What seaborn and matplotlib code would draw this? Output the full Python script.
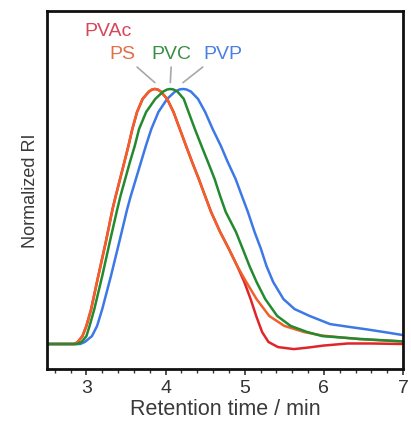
import matplotlib
matplotlib.use("Agg")
import matplotlib.pyplot as plt
import numpy as np
import pandas as pd
import seaborn as sns
from matplotlib.ticker import MultipleLocator

# values (retention time in min, normalized RI)
ps_x = [2.5, 2.85, 2.89, 2.95, 3.00, 3.06, 3.15, 3.245, 3.33, 3.37, 3.425, 3.48, 3.53, 3.58, 3.64,
        3.71, 3.79, 3.83, 3.865, 3.90, 3.94, 4.02, 4.10, 4.18, 4.26, 4.335, 4.42, 4.50, 4.575,
        4.69, 4.80, 4.905, 5.02, 5.15, 5.31, 5.50, 5.75, 5.98, 6.45, 7.0]
ps_y = [0.0, 0.0, 0.008, 0.031, 0.071, 0.137, 0.267, 0.400, 0.529, 0.580, 0.647, 0.714, 0.776,
        0.843, 0.910, 0.961, 0.990, 0.998, 1.0, 0.998, 0.990, 0.961, 0.910, 0.843, 0.776, 0.714,
        0.647, 0.580, 0.518, 0.439, 0.373, 0.306, 0.243, 0.176, 0.110, 0.071, 0.047, 0.033, 0.019,
        0.01]

pvac_x = [2.5, 2.85, 2.89, 2.95, 3.00, 3.06, 3.15, 3.245, 3.33, 3.37, 3.425, 3.48, 3.53, 3.58,
          3.64, 3.71, 3.79, 3.83, 3.865, 3.90, 3.94, 4.02, 4.10, 4.18, 4.26, 4.335, 4.42, 4.50,
          4.575, 4.69, 4.80, 4.905, 4.995, 5.075, 5.145, 5.22, 5.30, 5.42, 5.62, 5.80, 6.00, 6.30,
          6.60, 7.0]
pvac_y = [0.0, 0.0, 0.008, 0.031, 0.071, 0.137, 0.267, 0.400, 0.529, 0.580, 0.647, 0.714, 0.776,
          0.843, 0.910, 0.961, 0.990, 0.998, 1.0, 0.998, 0.990, 0.961, 0.910, 0.843, 0.776, 0.714,
          0.647, 0.580, 0.518, 0.439, 0.373, 0.306, 0.243, 0.176, 0.110, 0.047, 0.008, -0.012,
          -0.020, -0.014, -0.006, 0.002, 0.002, 0.0]

pvc_x = [2.5, 2.88, 2.94, 3.00, 3.04, 3.10, 3.20, 3.295, 3.39, 3.43, 3.49, 3.55, 3.61, 3.665,
         3.755, 3.87, 3.97, 4.02, 4.06, 4.10, 4.15, 4.23, 4.29, 4.37, 4.455, 4.535, 4.62, 4.69,
         4.76, 4.89, 4.975, 5.06, 5.15, 5.26, 5.41, 5.58, 5.79, 5.98, 6.45, 7.0]
pvc_y = [0.0, 0.0, 0.008, 0.031, 0.071, 0.137, 0.267, 0.400, 0.529, 0.580, 0.647, 0.714, 0.776,
         0.843, 0.910, 0.961, 0.990, 0.998, 1.0, 0.998, 0.990, 0.961, 0.910, 0.843, 0.776, 0.714,
         0.647, 0.580, 0.518, 0.439, 0.373, 0.306, 0.243, 0.176, 0.110, 0.071, 0.047, 0.031, 0.020,
         0.01]

pvp_x = [2.5, 2.92, 2.98, 3.07, 3.135, 3.20, 3.31, 3.415, 3.515, 3.56, 3.625, 3.69, 3.75, 3.82,
         3.91, 4.02, 4.12, 4.175, 4.22, 4.265, 4.32, 4.41, 4.50, 4.595, 4.70, 4.785, 4.885, 4.965,
         5.04, 5.125, 5.205, 5.275, 5.36, 5.49, 5.63, 5.82, 6.08, 6.30, 6.55, 6.80, 7.0]
pvp_y = [0.0, 0.0, 0.008, 0.031, 0.071, 0.137, 0.267, 0.400, 0.529, 0.580, 0.647, 0.714, 0.776,
         0.843, 0.910, 0.961, 0.990, 0.998, 1.0, 0.998, 0.990, 0.961, 0.910, 0.843, 0.776, 0.714,
         0.647, 0.580, 0.518, 0.439, 0.373, 0.306, 0.243, 0.176, 0.137, 0.110, 0.078, 0.068, 0.057,
         0.045, 0.035]

polymers = ["PVP", "PVAc", "PS", "PVC"]  # drawing order
series = {"PVAc": (pvac_x, pvac_y), "PS": (ps_x, ps_y), "PVC": (pvc_x, pvc_y), "PVP": (pvp_x, pvp_y)}
line_colors = {"PVAc": "#e0252a", "PS": "#f0602a", "PVC": "#248a30", "PVP": "#3c78e6"}
label_colors = {"PVAc": "#d8455a", "PS": "#e07048", "PVC": "#3a8f45", "PVP": "#4a80e2"}

df = pd.concat(
    [pd.DataFrame({"time": series[p][0], "ri": series[p][1], "polymer": p}) for p in polymers],
    ignore_index=True,
)

sns.set_style("white")
plt.rcParams["font.family"] = ["Liberation Sans", "DejaVu Sans"]

fig = plt.figure(figsize=(4.11, 4.27), dpi=100)
ax = fig.add_axes([0.114, 0.1335, 0.8665, 0.8385])

sns.lineplot(data=df, x="time", y="ri", hue="polymer", hue_order=polymers, palette=line_colors,
             sort=False, estimator=None, linewidth=1.8, legend=False, ax=ax)

# labels with grey leader lines to each peak
label_pos = {"PVAc": (3.27, 1.23), "PS": (3.45, 1.14), "PVC": (4.07, 1.14), "PVP": (4.72, 1.14)}
for p, (lx, ly) in label_pos.items():
    ax.text(lx, ly, p, color=label_colors[p], fontsize=14, ha="center", va="center")
for p, top_x in [("PS", 3.64), ("PVC", 4.07), ("PVP", 4.47)]:
    px = series[p][0][int(np.argmax(series[p][1]))]
    ax.plot([top_x, px], [1.086, 1.025], color="#a8a8a8", linewidth=1.2)

ax.set_xlim(2.5, 7)
ax.set_ylim(-0.098, 1.306)
ax.set_yticks([])
ax.xaxis.set_major_locator(MultipleLocator(1))
ax.xaxis.set_minor_locator(MultipleLocator(0.2))
ax.tick_params(axis="x", which="major", bottom=True, direction="out", length=4, width=1.2,
               labelsize=14, pad=3, colors="#333333")
ax.tick_params(axis="x", which="minor", bottom=True, direction="out", length=3, width=1.0,
               colors="#333333")
ax.set_xlabel("Retention time / min", fontsize=15.5, color="#3a3a3a", labelpad=2)
ax.set_ylabel("Normalized RI", fontsize=13, color="#3a3a3a", labelpad=6)
for s in ax.spines.values():
    s.set_color("#111111")
    s.set_linewidth(2)

fig.savefig("out.png", dpi=100)
